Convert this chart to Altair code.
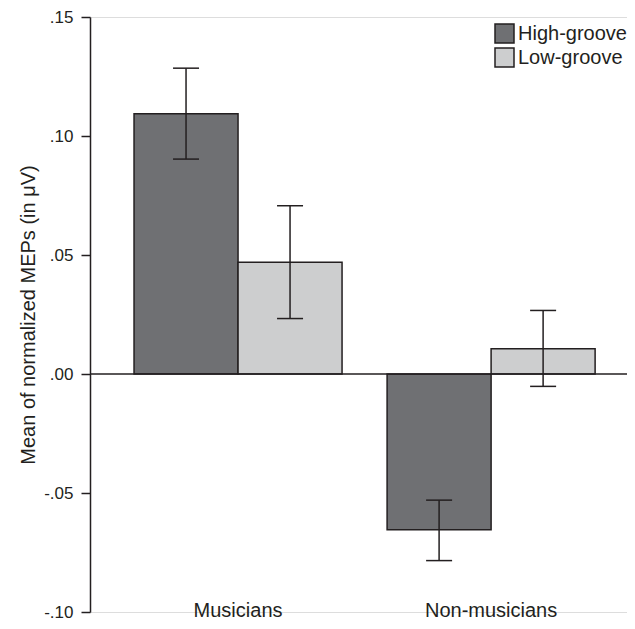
import altair as alt
import pandas as pd

groups = ["Musicians", "Musicians", "Non-musicians", "Non-musicians"]
conditions = ["High-groove", "Low-groove", "High-groove", "Low-groove"]
means = [0.1094, 0.0470, -0.0654, 0.0106]
err_hi = [0.1285, 0.0707, -0.0530, 0.0267]
err_lo = [0.0903, 0.0233, -0.0784, -0.0052]
y_ticks = [-0.10, -0.05, 0.00, 0.05, 0.10, 0.15]

df = pd.DataFrame({"Group": groups, "Condition": conditions, "Mean": means,
                   "Hi": err_hi, "Lo": err_lo})

ink = "#231f20"
font = "Liberation Sans"

x_enc = alt.X("Group:N", sort=["Musicians", "Non-musicians"],
              scale=alt.Scale(paddingInner=0.178, paddingOuter=0.150, align=0.58),
              axis=alt.Axis(title=None, domain=False, ticks=False, tickSize=0,
                            labelAngle=0, labelFontSize=20, labelFont=font,
                            labelColor=ink, labelPadding=4,
                            labelBaseline="alphabetic"))
xo_enc = alt.XOffset("Condition:N", sort=["High-groove", "Low-groove"],
                     scale=alt.Scale(paddingInner=0, paddingOuter=0))
y_scale = alt.Scale(domain=[-0.10, 0.15], nice=False, zero=False)

base = alt.Chart(df)

bars = base.mark_bar(stroke=ink, strokeWidth=1.5).encode(
    x=x_enc,
    xOffset=xo_enc,
    y=alt.Y("Mean:Q", scale=y_scale,
            axis=alt.Axis(title="Mean of normalized MEPs (in μV)",
                          values=y_ticks,
                          labelExpr="replace(replace(format(datum.value, '.2f'), '0.', '.'), '−', '-')",
                          grid=False, domainColor=ink, domainWidth=1.5,
                          tickColor=ink, tickWidth=1.5, tickSize=9,
                          labelFontSize=17, labelFont=font, labelColor=ink,
                          labelPadding=8, titleFontSize=20, titleFont=font,
                          titleColor=ink, titleFontWeight="normal",
                          titlePadding=5)),
    y2=alt.datum(0),
    color=alt.Color("Condition:N", sort=["High-groove", "Low-groove"],
                    scale=alt.Scale(domain=["High-groove", "Low-groove"],
                                    range=["#6f7073", "#cdcecf"]),
                    legend=alt.Legend(title=None, orient="none", legendX=404,
                                      legendY=6, symbolType="square",
                                      symbolSize=361, symbolStrokeColor=ink,
                                      symbolStrokeWidth=1.5, symbolOpacity=1,
                                      labelFontSize=20, labelFont=font,
                                      labelColor=ink, labelOffset=3,
                                      rowPadding=-1, padding=0)),
)

zero = alt.Chart(pd.DataFrame({"z": [0]})).mark_rule(
    color=ink, strokeWidth=1.5).encode(y=alt.Y("z:Q", scale=y_scale))

err = base.mark_rule(color=ink, strokeWidth=1.5).encode(
    x=x_enc, xOffset=xo_enc,
    y=alt.Y("Lo:Q", scale=y_scale), y2="Hi:Q")

cap_hi = base.mark_tick(color=ink, thickness=1.5, size=26, opacity=1).encode(
    x=x_enc, xOffset=xo_enc, y=alt.Y("Hi:Q", scale=y_scale))
cap_lo = base.mark_tick(color=ink, thickness=1.5, size=26, opacity=1).encode(
    x=x_enc, xOffset=xo_enc, y=alt.Y("Lo:Q", scale=y_scale))

chart = alt.layer(bars, zero, err, cap_hi, cap_lo).properties(
    width=537, height=595,
    autosize=alt.AutoSizeParams(type="none"),
    padding={"left": 82, "top": 9, "right": 0, "bottom": 9},
).configure_view(stroke=None).configure(background="white")

chart.save("out.html", embed_options={"renderer": "svg", "actions": False})
